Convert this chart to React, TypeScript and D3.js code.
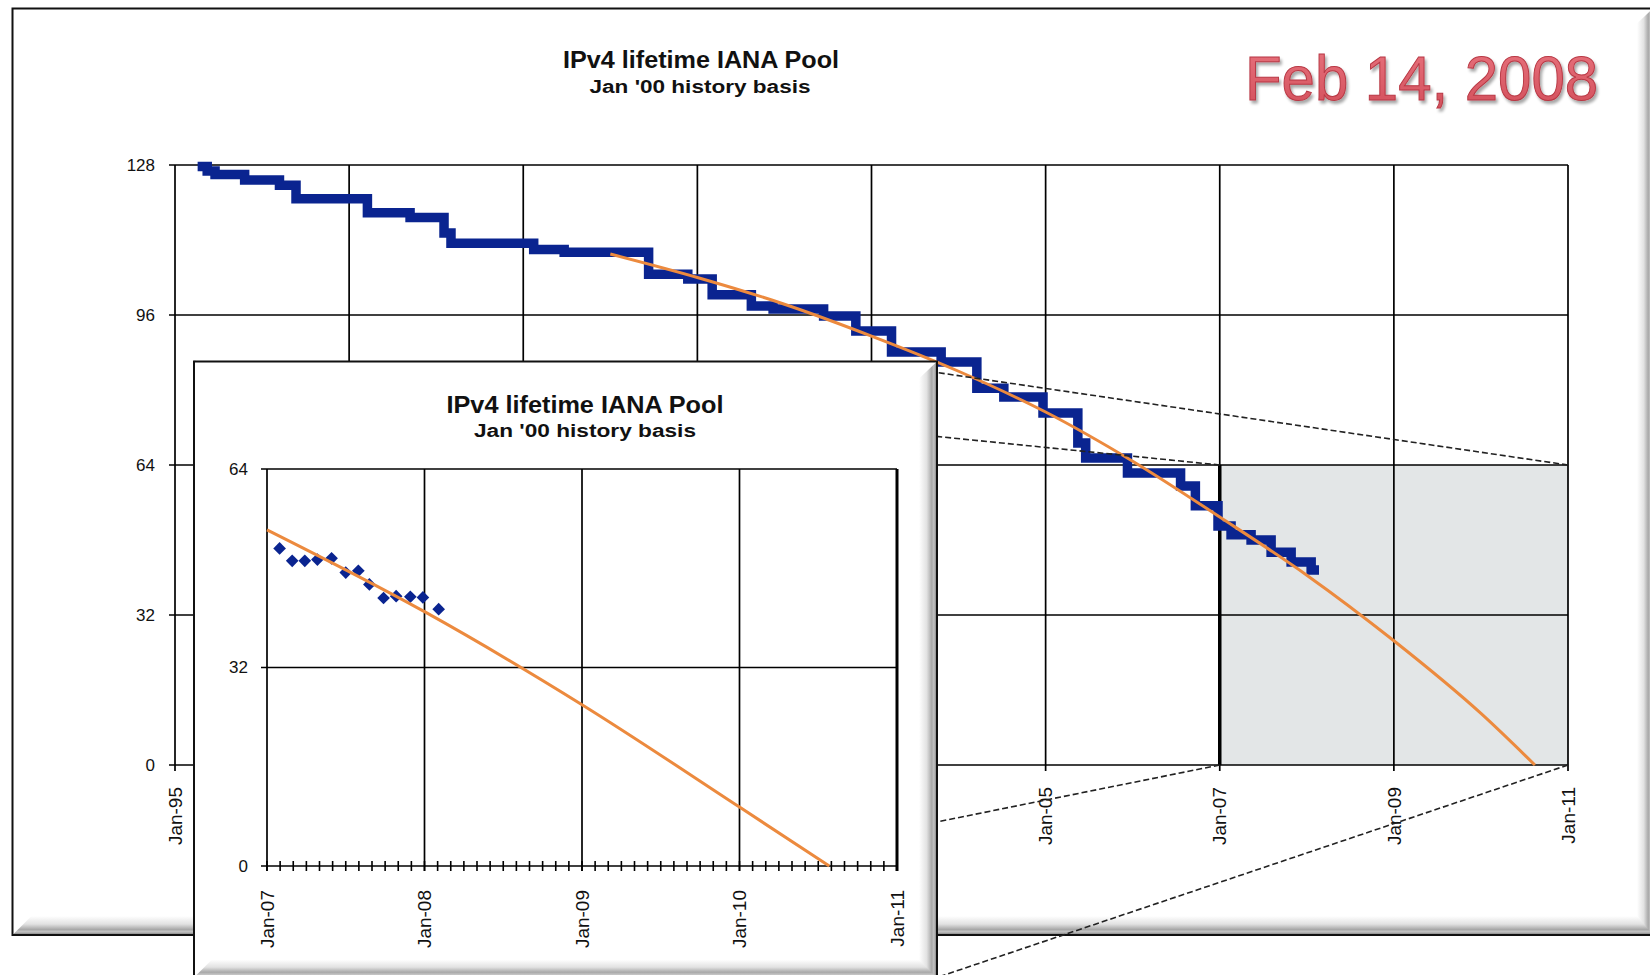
import React from "react";
import * as d3 from "d3";

// ---------- data ----------
const mainXYears = [1995, 1997, 1999, 2001, 2003, 2005, 2007, 2009, 2011];
const mainXLabels = ["Jan-95", "Jan-97", "Jan-99", "Jan-01", "Jan-03", "Jan-05", "Jan-07", "Jan-09", "Jan-11"];
const mainYTicks = [0, 32, 64, 96, 128];
const insetXYears = [2007, 2008, 2009, 2010, 2011];
const insetXLabels = ["Jan-07", "Jan-08", "Jan-09", "Jan-10", "Jan-11"];
const insetYTicks = [0, 32, 64];

// IANA pool (number of /8s) — step history
const poolDates = [
  1995.26, 1995.37, 1995.46, 1995.8, 1996.2, 1996.39, 1997.21, 1997.7, 1998.09, 1998.17,
  1999.12, 1999.47, 2000.44, 2000.89, 2001.17, 2001.62, 2001.87, 2002.45, 2002.82, 2003.23,
  2003.8, 2004.21, 2004.52, 2004.97, 2005.37, 2005.46, 2005.94, 2006.55, 2006.72, 2006.98,
  2007.13, 2007.36, 2007.59, 2007.82, 2008.05, 2008.14,
];
const poolValues = [
  127.7, 126.7, 126.0, 124.8, 123.7, 120.8, 117.8, 116.8, 113.5, 111.3,
  110.0, 109.4, 104.7, 103.7, 100.3, 97.9, 97.3, 95.8, 92.6, 88.1,
  86.0, 80.4, 78.5, 75.1, 68.7, 65.5, 62.3, 59.5, 55.3, 51.0,
  49.1, 48.0, 45.4, 43.3, 41.6, 41.6,
];

// projection fit (main chart)
const fitDates = [2000.0, 2001.0, 2002.0, 2003.0, 2004.0, 2005.0, 2006.0, 2007.0, 2008.0, 2009.0, 2010.0, 2010.62];
const fitValues = [109.0, 104.0, 98.3, 91.5, 84.0, 75.3, 64.8, 52.9, 40.5, 26.5, 11.0, 0];

// inset: recent observations and fit
const insetObsDates = [2007.08, 2007.16, 2007.24, 2007.32, 2007.41, 2007.5, 2007.58, 2007.65, 2007.74, 2007.82, 2007.91, 2007.99, 2008.09];
const insetObsValues = [51.2, 49.2, 49.2, 49.4, 49.6, 47.3, 47.6, 45.4, 43.2, 43.5, 43.4, 43.3, 41.4];
const insetFitDates = [2007.0, 2008.0, 2009.0, 2010.0, 2010.57];
const insetFitValues = [54.2, 41.0, 26.0, 9.5, 0];

// zoomed region shown in inset
const zoomYears = [2007, 2011];
const zoomValues = [0, 64];

// ---------- layout ----------
const W = 1650;
const H = 975;
const FONT = "'Liberation Sans', Arial, sans-serif";
const INSET = { x: 194, y: 361.5, w: 743, h: 616 };
const FRAME = { x: 12.5, y: 8.5, w: 1660, h: 926.5 };

const BLUE = "#0a2490";
const ORANGE = "#ec8a3e";

export default function App() {
  const mainX = d3.scaleLinear().domain([1995, 2011]).range([175, 1568]);
  const mainY = d3.scaleLinear().domain([0, 128]).range([765, 165]);
  const insetX = d3.scaleLinear().domain([2007, 2011]).range([267, 897]);
  const insetY = d3.scaleLinear().domain([0, 64]).range([866, 469]);

  const pool = poolDates.map((t, i) => ({ t, v: poolValues[i] }));
  const fit = fitDates.map((t, i) => ({ t, v: fitValues[i] }));
  const iObs = insetObsDates.map((t, i) => ({ t, v: insetObsValues[i] }));
  const iFit = insetFitDates.map((t, i) => ({ t, v: insetFitValues[i] }));

  const poolLine = d3
    .line<{ t: number; v: number }>()
    .x((d) => mainX(d.t))
    .y((d) => mainY(d.v))
    .curve(d3.curveStepAfter)(pool) as string;
  const fitLine = d3
    .line<{ t: number; v: number }>()
    .x((d) => mainX(d.t))
    .y((d) => mainY(d.v))
    .curve(d3.curveMonotoneX)(fit) as string;
  const iFitLine = d3
    .line<{ t: number; v: number }>()
    .x((d) => insetX(d.t))
    .y((d) => insetY(d.v))
    .curve(d3.curveMonotoneX)(iFit) as string;
  const diamond = d3.symbol().type(d3.symbolSquare).size(80)() as string;

  const [zx0, zx1] = zoomYears.map((d) => mainX(d));
  const [zy0, zy1] = zoomValues.map((d) => mainY(d));

  const [mx0, mx1] = mainX.range();
  const [my0, my1] = mainY.range();
  const [ix0, ix1] = insetX.range();
  const [iy0, iy1] = insetY.range();

  const monthTicks = d3.range(0, 49).map((i) => 2007 + i / 12);

  const dashed = [
    { x1: zx1, y1: zy1, x2: INSET.x + INSET.w, y2: INSET.y + 11 },
    { x1: zx0, y1: zy1, x2: INSET.x, y2: INSET.y },
    { x1: zx0, y1: zy0, x2: INSET.x, y2: INSET.y + INSET.h - 6 },
    { x1: zx1, y1: zy0, x2: INSET.x + INSET.w, y2: INSET.y + INSET.h },
  ];

  const bevel = 18;
  const ib = 17;

  return (
    <svg
      width={W}
      height={H}
      viewBox={`0 0 ${W} ${H}`}
      style={{ position: "absolute", left: 0, top: 0, background: "#fff" }}
      fontFamily={FONT}
    >
      <defs>
        <linearGradient id="bevBottom" x1="0" y1="0" x2="0" y2="1">
          <stop offset="0" stopColor="#ffffff" />
          <stop offset="0.45" stopColor="#e2e2e2" />
          <stop offset="0.75" stopColor="#a8a8a8" />
          <stop offset="0.88" stopColor="#c4c4c4" />
          <stop offset="1" stopColor="#8c8c8c" />
        </linearGradient>
        <linearGradient id="bevRight" x1="0" y1="0" x2="1" y2="0">
          <stop offset="0" stopColor="#ffffff" />
          <stop offset="0.45" stopColor="#e2e2e2" />
          <stop offset="0.75" stopColor="#a8a8a8" />
          <stop offset="0.88" stopColor="#c4c4c4" />
          <stop offset="1" stopColor="#8c8c8c" />
        </linearGradient>
        <filter id="redShadow" x="-10%" y="-20%" width="130%" height="160%">
          <feGaussianBlur in="SourceAlpha" stdDeviation="1.6" />
          <feOffset dx="2" dy="3" result="off" />
          <feComponentTransfer>
            <feFuncA type="linear" slope="0.35" />
          </feComponentTransfer>
          <feMerge>
            <feMergeNode />
            <feMergeNode in="SourceGraphic" />
          </feMerge>
        </filter>
        <linearGradient id="redFill" x1="0" y1="0" x2="0" y2="1">
          <stop offset="0" stopColor="#e8747e" />
          <stop offset="1" stopColor="#d24e5a" />
        </linearGradient>
      </defs>

      <rect x={0} y={0} width={W} height={H} fill="#fff" />

      {/* main frame */}
      <rect x={FRAME.x} y={FRAME.y} width={FRAME.w} height={FRAME.h} fill="#fff" stroke="#111" strokeWidth={2} />
      <polygon
        points={`${FRAME.x + 1},${FRAME.y + FRAME.h - 1} ${FRAME.x + 1 + bevel},${FRAME.y + FRAME.h - 1 - bevel} ${1637},${FRAME.y + FRAME.h - 1 - bevel} ${1655},${FRAME.y + FRAME.h - 1}`}
        fill="url(#bevBottom)"
      />
      <polygon
        points={`${1637},${FRAME.y + 1 + 14} ${1652},${FRAME.y + 1} ${1652},${FRAME.y + FRAME.h - 1} ${1637},${FRAME.y + FRAME.h - 1 - bevel}`}
        fill="url(#bevRight)"
      />

      {/* titles */}
      <text x={701} y={68} textAnchor="middle" fontSize={23} fontWeight="bold" textLength={276} lengthAdjust="spacingAndGlyphs" fill="#111">
        IPv4 lifetime IANA Pool
      </text>
      <text x={700} y={93} textAnchor="middle" fontSize={18} fontWeight="bold" textLength={221} lengthAdjust="spacingAndGlyphs" fill="#111">
        Jan '00 history basis
      </text>

      {/* zoom region */}
      <rect x={zx0} y={zy1} width={zx1 - zx0} height={zy0 - zy1} fill="#e3e6e7" />

      {/* grid */}
      {mainYTicks.map((v) => (
        <line key={"gy" + v} x1={mx0 - 6} x2={mx1} y1={mainY(v)} y2={mainY(v)} stroke="#000" strokeWidth={1.7} />
      ))}
      {mainXYears.map((t) => (
        <line key={"gx" + t} x1={mainX(t)} x2={mainX(t)} y1={my1} y2={my0 + 6} stroke="#000" strokeWidth={1.7} />
      ))}
      <line x1={zx0} x2={zx0} y1={zy1} y2={zy0} stroke="#000" strokeWidth={3.5} />

      {/* series */}
      <path d={poolLine} fill="none" stroke={BLUE} strokeWidth={9.5} strokeLinejoin="miter" />
      <path d={fitLine} fill="none" stroke={ORANGE} strokeWidth={3} />

      {/* y labels */}
      {mainYTicks.map((v) => (
        <text key={"yl" + v} x={155} y={mainY(v)} dy="0.35em" textAnchor="end" fontSize={17} fill="#111">
          {v}
        </text>
      ))}
      {/* x labels */}
      {mainXYears.map((t, i) => (
        <text
          key={"xl" + t}
          transform={`translate(${mainX(t)},${787}) rotate(-90)`}
          dy="0.35em"
          textAnchor="end"
          fontSize={19}
          fill="#111"
        >
          {mainXLabels[i]}
        </text>
      ))}

      {/* connector lines */}
      {dashed.map((d, i) => (
        <line key={"dl" + i} x1={d.x1} y1={d.y1} x2={d.x2} y2={d.y2} stroke="#222" strokeWidth={1.6} strokeDasharray="6,3" />
      ))}

      {/* inset box */}
      <rect x={INSET.x} y={INSET.y} width={INSET.w} height={INSET.h} fill="#fff" stroke="#111" strokeWidth={2} />
      <polygon
        points={`${INSET.x + INSET.w - 1},${INSET.y + 1} ${INSET.x + INSET.w - 1},${INSET.y + INSET.h} ${INSET.x + INSET.w - 1 - ib},${INSET.y + INSET.h - ib} ${INSET.x + INSET.w - 1 - ib},${INSET.y + ib}`}
        fill="url(#bevRight)"
      />
      <polygon
        points={`${INSET.x + 1},${INSET.y + INSET.h - 1} ${INSET.x + 1 + ib},${INSET.y + INSET.h - 1 - ib} ${INSET.x + INSET.w - 1 - ib},${INSET.y + INSET.h - 1 - ib} ${INSET.x + INSET.w - 1},${INSET.y + INSET.h - 1}`}
        fill="url(#bevBottom)"
      />

      <text x={585} y={413} textAnchor="middle" fontSize={23} fontWeight="bold" textLength={277} lengthAdjust="spacingAndGlyphs" fill="#111">
        IPv4 lifetime IANA Pool
      </text>
      <text x={585} y={437} textAnchor="middle" fontSize={18} fontWeight="bold" textLength={222} lengthAdjust="spacingAndGlyphs" fill="#111">
        Jan '00 history basis
      </text>

      {/* inset grid */}
      {insetYTicks.map((v) => (
        <line key={"igy" + v} x1={ix0 - 6} x2={ix1} y1={insetY(v)} y2={insetY(v)} stroke="#000" strokeWidth={1.7} />
      ))}
      {insetXYears.map((t) => (
        <line key={"igx" + t} x1={insetX(t)} x2={insetX(t)} y1={iy1} y2={iy0 + 5} stroke="#000" strokeWidth={t === 2011 ? 3 : 1.7} />
      ))}
      {monthTicks.map((t, i) => (
        <line key={"mt" + i} x1={insetX(t)} x2={insetX(t)} y1={iy0 - 5} y2={iy0 + 5} stroke="#000" strokeWidth={1.6} />
      ))}

      {iObs.map((d, i) => (
        <path key={"io" + i} d={diamond} transform={`translate(${insetX(d.t)},${insetY(d.v)}) rotate(45)`} fill={BLUE} />
      ))}
      <path d={iFitLine} fill="none" stroke={ORANGE} strokeWidth={3} />

      {insetYTicks.map((v) => (
        <text key={"iyl" + v} x={248} y={insetY(v)} dy="0.35em" textAnchor="end" fontSize={17} fill="#111">
          {v}
        </text>
      ))}
      {insetXYears.map((t, i) => (
        <text
          key={"ixl" + t}
          transform={`translate(${insetX(t)},${890}) rotate(-90)`}
          dy="0.35em"
          textAnchor="end"
          fontSize={19}
          fill="#111"
        >
          {insetXLabels[i]}
        </text>
      ))}

      {/* date stamp */}
      <text
        x={1421.5}
        y={100}
        textAnchor="middle"
        fontSize={63}
        textLength={353}
        lengthAdjust="spacingAndGlyphs"
        fill="url(#redFill)"
        stroke="#b83844"
        strokeWidth={1}
        filter="url(#redShadow)"
      >
        Feb 14, 2008
      </text>
    </svg>
  );
}
